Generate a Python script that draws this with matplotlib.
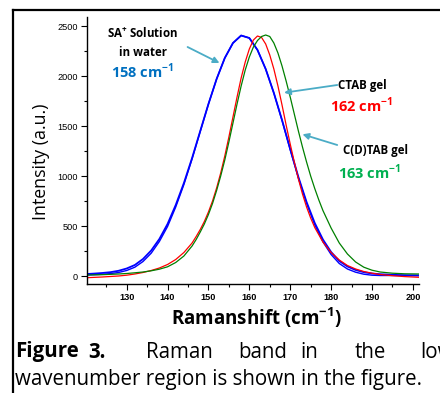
import matplotlib
matplotlib.use("Agg")
import matplotlib.pyplot as plt
from matplotlib.lines import Line2D
from matplotlib.ticker import MultipleLocator

plt.rcParams['mathtext.fontset'] = 'custom'
plt.rcParams['mathtext.rm'] = 'Open Sans'
plt.rcParams['mathtext.bf'] = 'Open Sans:bold'

# Raman band
blue_x = [120.3, 122, 124, 126, 128, 130, 132, 134, 136, 138, 140, 142, 144, 146, 148, 150, 152, 154,
          156, 158, 160, 162, 164, 166, 168, 170, 172, 174, 176, 178, 180, 182, 184, 186, 188, 190,
          192, 195, 198, 201.5]
blue_y = [20, 24, 30, 38, 52, 75, 110, 170, 255, 370, 520, 710, 930, 1180, 1450, 1720, 1970, 2180,
          2330, 2405, 2380, 2260, 2070, 1830, 1560, 1270, 990, 740, 530, 365, 240, 150, 95, 60, 38, 25,
          18, 12, 8, 5]
blue2_y = [10, 13, 17, 24, 35, 55, 88, 145, 228, 345, 495, 690, 915, 1170, 1445, 1718, 1970, 2180,
           2330, 2405, 2380, 2260, 2070, 1830, 1555, 1262, 980, 728, 512, 342, 215, 125, 70, 38, 18, 8,
           5, 5, 5, 5]

red_x = [120.3, 124, 128, 130, 132, 134, 136, 138, 140, 142, 144, 146, 147, 148, 149, 150, 151, 152,
         153, 154, 155, 156, 157, 158, 159, 160, 161, 162, 163, 164, 165, 166, 167, 168, 169, 170, 171,
         172, 173, 174, 175, 176, 178, 180, 182, 184, 186, 188, 190, 192, 195, 198, 201.5]
red_y = [-17, -10, 0, 8, 20, 35, 55, 80, 115, 165, 235, 330, 395, 465, 545, 640, 750, 880,
         1030, 1200, 1390, 1590, 1790, 1980, 2140, 2270, 2360, 2400, 2385, 2320, 2210, 2070, 1900, 1710,
         1510, 1320, 1140, 970, 820, 690, 580, 485, 340, 235, 160, 105, 70, 45, 28, 15, 3, -6, -13]

green_x = [120.3, 124, 128, 130, 132, 134, 136, 138, 140, 142, 144, 146, 147, 148, 149, 150, 151, 152,
           153, 154, 155, 156, 157, 158, 159, 160, 161, 162, 163, 164, 165, 166, 167, 168, 169, 170,
           171, 172, 173, 174, 175, 176, 177, 178, 180, 182, 184, 186, 188, 190, 192, 195, 198, 201.5]
green_y = [10, 13, 20, 25, 32, 40, 52, 68, 92, 135, 200, 300, 365, 440, 520, 615, 725, 855,
           1000, 1160, 1340, 1530, 1720, 1900, 2060, 2190, 2290, 2355, 2395, 2410, 2395, 2330, 2230, 2100,
           1950, 1790, 1620, 1450, 1290, 1140, 1000, 875, 760, 655, 480, 330, 220, 140, 88, 58, 40, 28,
           22, 20]

W, H = 440, 393
fig = plt.figure(figsize=(W / 100, H / 100), dpi=100)
ax = fig.add_axes([87 / W, 1 - 284 / H, (419 - 87) / W, (284 - 17) / H])

ax.plot(blue_x, blue_y, color='#0000ff', lw=1.3)
ax.plot(blue_x, blue2_y, color='#0000ff', lw=1.0)
ax.plot(red_x, red_y, color='#ff0000', lw=0.9)
ax.plot(green_x, green_y, color='#008000', lw=0.9)

ax.set_xlim(120.3, 201.5)
ax.set_ylim(-80, 2590)
for s in ['top', 'right']:
    ax.spines[s].set_visible(False)
for s in ['left', 'bottom']:
    ax.spines[s].set_linewidth(1.0)

ax.xaxis.set_major_locator(MultipleLocator(10))
ax.xaxis.set_minor_locator(MultipleLocator(5))
ax.yaxis.set_major_locator(MultipleLocator(500))
ax.yaxis.set_minor_locator(MultipleLocator(250))
ax.tick_params(which='major', length=4, width=0.8, pad=2.5)
ax.tick_params(which='minor', length=2.5, width=0.8)
ax.set_xticks([130, 140, 150, 160, 170, 180, 190, 200])
for t in ax.get_xticklabels():
    t.set_fontfamily('Liberation Sans')
    t.set_fontweight('bold')
    t.set_fontsize(6.6)
for t in ax.get_yticklabels():
    t.set_fontfamily('Liberation Sans')
    t.set_fontsize(6.6)

# arrows
arr = dict(arrowstyle='-|>', color='#4bacc6', lw=1.3, mutation_scale=9, shrinkA=0, shrinkB=0)
ax.annotate('', xy=(152.7, 2130), xytext=(144.9, 2290), arrowprops=arr)
ax.annotate('', xy=(168.5, 1833), xytext=(181.5, 1910), arrowprops=arr)
ax.annotate('', xy=(173.0, 1417), xytext=(181.5, 1310), arrowprops=arr)

def ft(px, py, s, **kw):
    fig.text(px / W, 1 - py / H, s, fontfamily='Open Sans', **kw)

ft(143, 33, r'SA$^{\mathbf{+}}$ Solution', fontsize=8.3, fontweight='bold', ha='center', va='center')
ft(143, 52, 'in water', fontsize=8.3, fontweight='bold', ha='center', va='center')
ft(143, 71, r'158 cm$^{\mathbf{-1}}$', fontsize=10.5, fontweight='bold', color='#0070c0', ha='center', va='center')
ft(362, 85, 'CTAB gel', fontsize=8.3, fontweight='bold', ha='center', va='center')
ft(362, 105, r'162 cm$^{\mathbf{-1}}$', fontsize=10.5, fontweight='bold', color='#ff0000', ha='center', va='center')
ft(375, 151, 'C(D)TAB gel', fontsize=8.3, fontweight='bold', ha='center', va='center')
ft(370, 172, r'163 cm$^{\mathbf{-1}}$', fontsize=10.5, fontweight='bold', color='#00b050', ha='center', va='center')

ft(41, 162, 'Intensity (a.u.)', fontsize=12.8, rotation=90, ha='center', va='center')
ft(257, 318, r'Ramanshift (cm$^{\mathbf{-1}}$)', fontsize=13.5, fontweight='bold', ha='center', va='center')

# caption, justified first line
for word, px, bold in [('Figure', 15, True), ('3.', 88, True), ('Raman', 146, False),
                       ('band', 238, False), ('in', 300, False), ('the', 355, False), ('low', 420, False)]:
    ft(px, 352, word, fontsize=14.8, fontweight='bold' if bold else 'normal', ha='left', va='center')
ft(15, 379, 'wavenumber region is shown in the figure.', fontsize=14.8, ha='left', va='center')

# frame
fig.add_artist(Line2D([13 / W, 13 / W], [0, 1 - 9.5 / H], color='black', lw=1.6, transform=fig.transFigure))
fig.add_artist(Line2D([13 / W, 1], [1 - 9.5 / H, 1 - 9.5 / H], color='black', lw=1.6, transform=fig.transFigure))

fig.savefig('out.png', dpi=100)
